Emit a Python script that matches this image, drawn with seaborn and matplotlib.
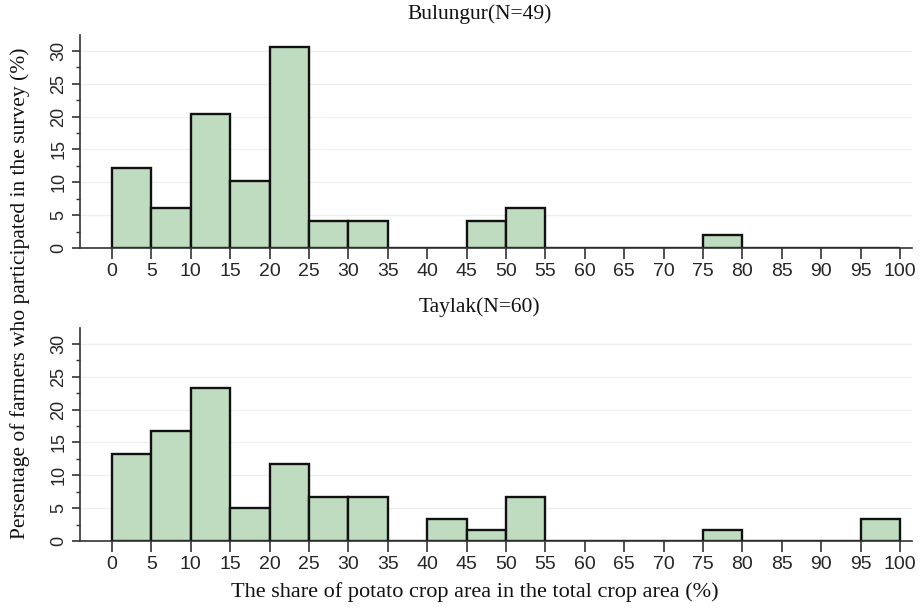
import numpy as np
import pandas as pd
import matplotlib
matplotlib.use('Agg')
import matplotlib.pyplot as plt
import seaborn as sns
from matplotlib.ticker import MultipleLocator

# --- Datos (porcentaje de agricultores por intervalo de 5%) ---
bin_edges = list(range(0, 105, 5))
bin_mids = [2.5, 7.5, 12.5, 17.5, 22.5, 27.5, 32.5, 37.5, 42.5, 47.5,
            52.5, 57.5, 62.5, 67.5, 72.5, 77.5, 82.5, 87.5, 92.5, 97.5]
bulungur_pct = [12.2, 6.1, 20.4, 10.2, 30.6, 4.1, 4.1, 0, 0, 4.1,
                6.1, 0, 0, 0, 0, 2.0, 0, 0, 0, 0]
taylak_pct = [13.3, 16.7, 23.3, 5.0, 11.7, 6.7, 6.7, 0, 3.3, 1.7,
              6.7, 0, 0, 0, 0, 1.7, 0, 0, 0, 3.3]
panel_titles = ['Bulungur(N=49)', 'Taylak(N=60)']
x_ticks = list(range(0, 105, 5))
y_ticks = [0, 5, 10, 15, 20, 25, 30]

FILL = '#c0dcc0'
SERIF = ['Liberation Serif', 'DejaVu Serif']
SANS = ['Liberation Sans', 'DejaVu Sans']

sns.set_theme(style='white')
plt.rcParams['font.family'] = SANS

fig = plt.figure(figsize=(9.21, 6.10), dpi=100)
ax_top = fig.add_axes([0.0869, 0.5934, 0.9031, 0.3492])
ax_bot = fig.add_axes([0.0869, 0.1131, 0.9031, 0.3492])

for ax, valores, titulo in zip([ax_top, ax_bot], [bulungur_pct, taylak_pct], panel_titles):
    df = pd.DataFrame({'mid': bin_mids, 'pct': valores})
    sns.histplot(data=df, x='mid', weights='pct', bins=bin_edges, ax=ax,
                 color=FILL, alpha=1, edgecolor='#111111', linewidth=1.7)
    ax.set_xlim(-4.06, 101.5)
    ax.set_ylim(0, 32.4)
    ax.set_xticks(x_ticks)
    ax.set_yticks(y_ticks)
    ax.yaxis.set_minor_locator(MultipleLocator(2.5))
    ax.grid(axis='y', which='major', color='#ecf0f0', linewidth=1)
    ax.set_axisbelow(True)
    for s in ['top', 'right']:
        ax.spines[s].set_visible(False)
    for s in ['left', 'bottom']:
        ax.spines[s].set_color('#333333')
        ax.spines[s].set_linewidth(1.2)
    ax.tick_params(axis='x', which='major', bottom=True, length=8, width=1.2,
                   color='#333333', labelsize=14, pad=3)
    ax.tick_params(axis='y', which='major', left=True, length=6, width=1.2,
                   color='#333333', labelsize=13, pad=3, labelrotation=90)
    ax.tick_params(axis='y', which='minor', left=True, length=3, width=1,
                   color='#333333')
    for lbl in ax.get_yticklabels():
        lbl.set_va('center')
    ax.set_xlabel('')
    ax.set_ylabel('')
    fig.text(0.521, (ax.get_position().y1 + 0.034), titulo, ha='center', va='center',
             fontsize=15.5, family=SERIF, color='#111111')

fig.text(0.516, 0.03, 'The share of potato crop area in the total crop area (%)',
         ha='center', va='center', fontsize=16, family=SERIF, color='#111111')
fig.text(0.022, 0.52, 'Persentage of farmers who participated in the survey (%)',
         ha='center', va='center', rotation=90, fontsize=15.5, family=SERIF, color='#111111')

plt.savefig('out.png', dpi=100)
plt.close()
